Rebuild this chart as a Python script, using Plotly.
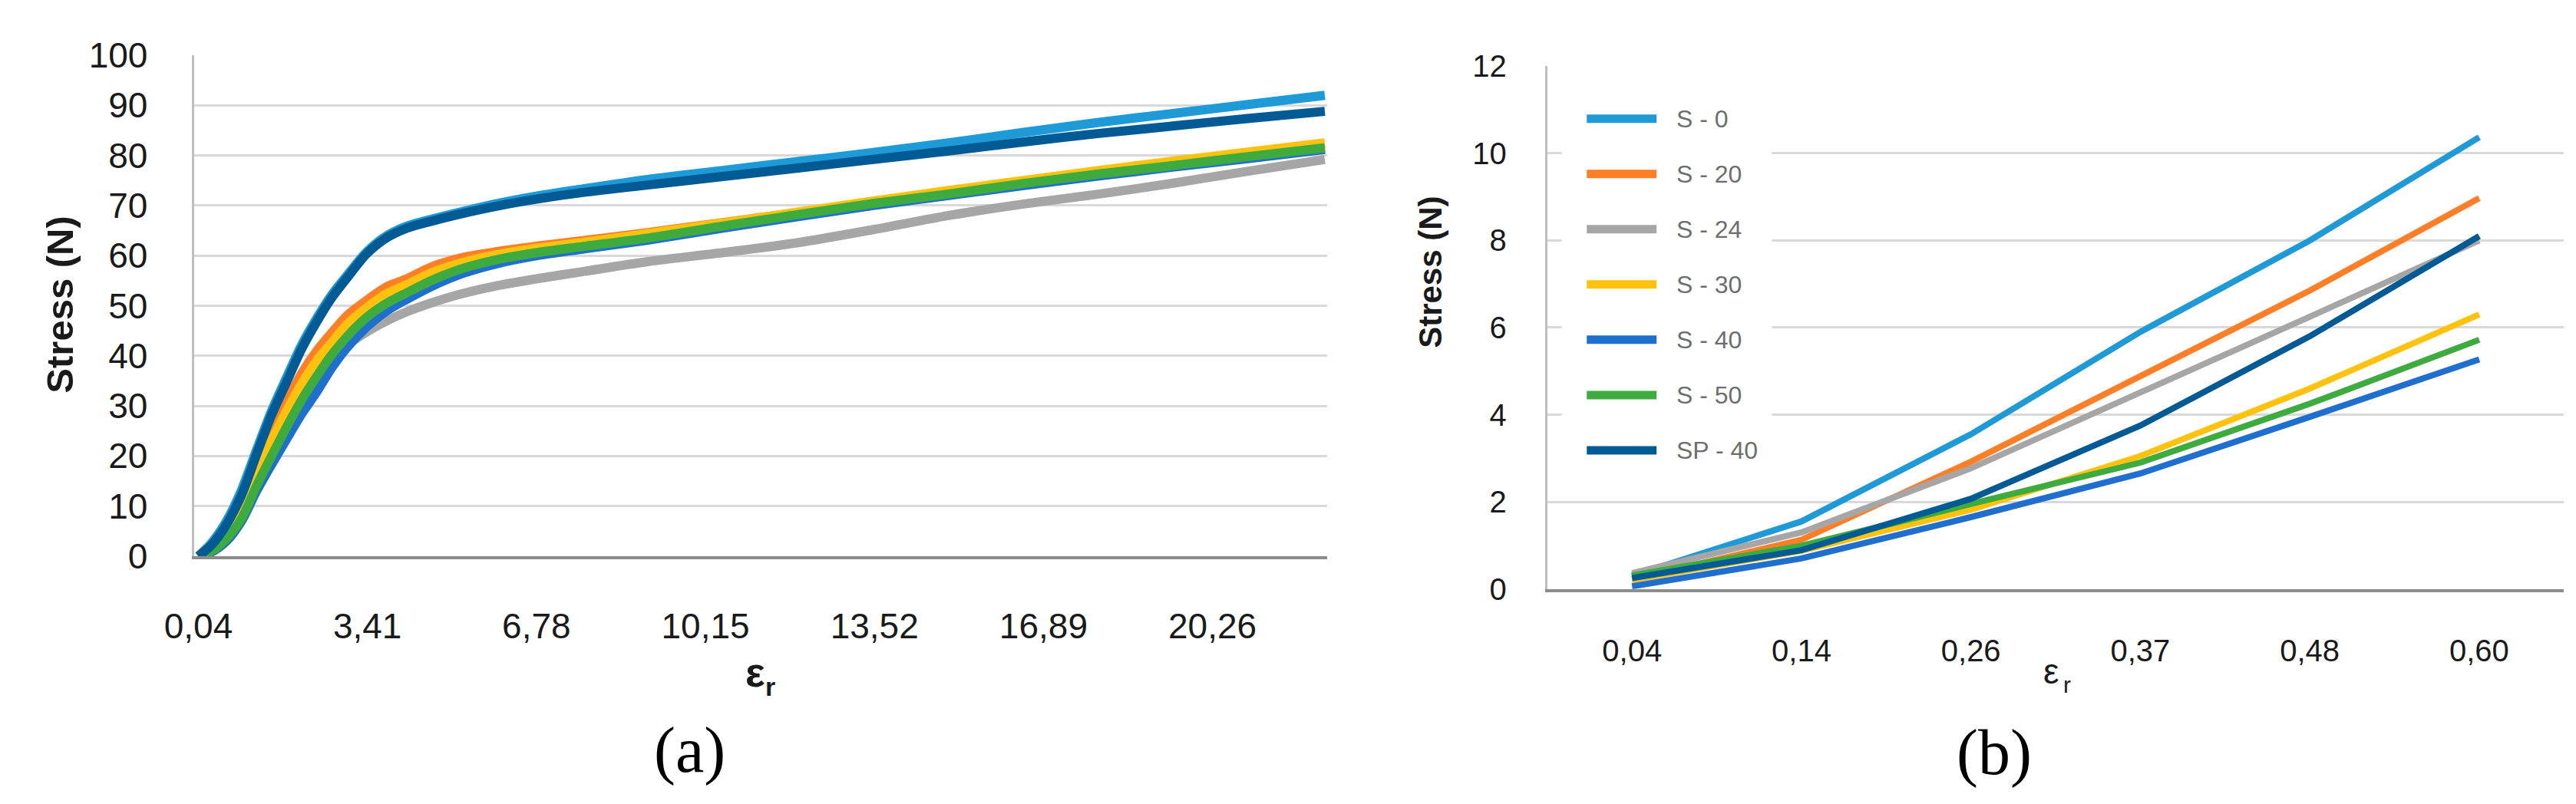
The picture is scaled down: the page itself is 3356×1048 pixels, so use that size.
import plotly.graph_objects as go

W, H = 3356, 1048

# ---------------- Panel (a): stress-strain curves ----------------
strain_a = [0.04, 0.3, 0.6, 0.9, 1.2, 1.5, 1.8, 2.1, 2.4, 2.7, 3.0, 3.4, 3.8, 4.2, 4.7,
            5.3, 6.0, 6.8, 7.7, 9.0, 10.5, 12.0, 13.5, 15.0, 16.5, 18.0, 19.5, 21.0, 22.5]
s0_a = [0, 2.6, 7.0, 13.2, 21.2, 29.0, 35.7, 42.2, 47.5, 52.2, 56.0, 60.8, 64.0, 65.9, 67.3,
        68.8, 70.4, 71.9, 73.3, 75.2, 77.0, 78.8, 80.6, 82.5, 84.6, 86.6, 88.4, 90.2, 92.0]
s20_a = [0, 2.2, 5.8, 10.5, 18.0, 24.8, 30.8, 36.5, 41.0, 44.6, 48.0, 51.1, 53.8, 55.4, 57.8,
         59.6, 60.8, 61.9, 63.0, 64.6, 66.6, 68.6, 70.6, 72.6, 74.6, 76.6, 78.6, 80.4, 82.2]
s24_a = [0, 1.0, 3.6, 7.8, 14.0, 19.5, 24.8, 30.0, 34.5, 38.6, 42.0, 44.8, 47.0, 48.8, 50.6,
         52.4, 54.0, 55.4, 56.8, 58.8, 60.6, 62.6, 65.2, 68.0, 70.3, 72.3, 74.5, 76.9, 79.2]
s30_a = [0, 1.8, 5.0, 9.6, 16.4, 23.0, 29.0, 34.4, 39.0, 42.6, 46.2, 49.6, 52.4, 54.2, 56.6,
         58.6, 60.2, 61.5, 62.6, 64.4, 66.5, 68.7, 70.9, 73.0, 75.0, 77.0, 78.9, 80.7, 82.5]
s40_a = [0, 0.8, 3.0, 7.0, 13.0, 18.3, 23.4, 28.4, 32.8, 37.6, 41.6, 45.8, 49.0, 51.3, 53.9,
         56.4, 58.4, 60.0, 61.3, 63.1, 65.5, 67.8, 70.0, 72.0, 74.0, 75.9, 77.7, 79.4, 81.2]
s50_a = [0, 1.0, 3.5, 7.5, 14.0, 20.0, 25.8, 31.2, 35.9, 40.2, 43.8, 47.7, 50.5, 52.6, 55.1,
         57.4, 59.2, 60.6, 61.8, 63.5, 65.9, 68.2, 70.4, 72.3, 74.4, 76.3, 78.0, 79.8, 81.5]
sp40_a = [0, 2.2, 6.3, 12.2, 20.3, 28.2, 34.8, 41.4, 46.8, 51.6, 55.5, 60.4, 63.6, 65.5, 66.9,
          68.4, 69.9, 71.3, 72.6, 74.1, 75.8, 77.5, 79.2, 80.9, 82.7, 84.4, 85.9, 87.4, 88.8]
tickvals_a = [0.04, 3.41, 6.78, 10.15, 13.52, 16.89, 20.26]
ticktext_a = ["0,04", "3,41", "6,78", "10,15", "13,52", "16,89", "20,26"]

# ---------------- Panel (b): low-strain region ----------------
cats_b = ["0,04", "0,14", "0,26", "0,37", "0,48", "0,60"]
s0_b = [0.30, 1.55, 3.55, 5.90, 8.00, 10.37]
s20_b = [0.22, 1.13, 2.92, 4.90, 6.85, 8.97]
s24_b = [0.36, 1.30, 2.77, 4.50, 6.25, 8.00]
s30_b = [0.20, 0.88, 1.82, 3.05, 4.60, 6.30]
s40_b = [0.06, 0.70, 1.65, 2.65, 3.95, 5.27]
s50_b = [0.31, 0.99, 1.95, 2.90, 4.25, 5.72]
sp40_b = [0.25, 0.89, 2.07, 3.75, 5.80, 8.10]

names = ["S-0", "S-20", "S-24", "S-30", "S-40", "S-50", "SP-40"]
legend_text = ["S - 0", "S - 20", "S - 24", "S - 30", "S - 40", "S - 50", "SP - 40"]
colors = ["#1E9AD6", "#FF7F27", "#A6A6A6", "#FFC20E", "#1F6FCF", "#3DAB3D", "#005B94"]

series_a = [s0_a, s20_a, s24_a, s30_a, s40_a, s50_a, sp40_a]
series_b = [s0_b, s20_b, s24_b, s30_b, s40_b, s50_b, sp40_b]


def fx(p):
    return p / W


def fy(p):
    return 1 - p / H


fig = go.Figure()
for name, col, ys in zip(names, colors, series_a):
    fig.add_trace(go.Scatter(x=strain_a, y=ys, name=name, mode="lines",
                             line=dict(color=col, width=12, shape="spline", smoothing=0.8),
                             xaxis="x", yaxis="y", showlegend=False))
for name, col, ys in zip(names, colors, series_b):
    fig.add_trace(go.Scatter(x=cats_b, y=ys, name=name, mode="lines",
                             line=dict(color=col, width=8),
                             xaxis="x2", yaxis="y2", showlegend=False))

tick_font_a = dict(family="Liberation Sans", size=46, color="#1a1a1a")
tick_font_b = dict(family="Liberation Sans", size=40, color="#1a1a1a")
grid = "#D9D9D9"

fig.update_layout(
    width=W, height=H, autosize=False,
    margin=dict(l=0, r=0, t=0, b=0),
    paper_bgcolor="white", plot_bgcolor="white",
    showlegend=False,
    xaxis=dict(domain=[fx(208), fx(1702)], range=[-0.05, 22.55],
               tickmode="array", tickvals=tickvals_a, ticktext=ticktext_a,
               showgrid=False, zeroline=False, showline=True,
               linecolor="#8C8C8C", linewidth=4, ticks="",
               tickfont=tick_font_a, ticklabelstandoff=48, anchor="y"),
    yaxis=dict(domain=[fy(727), fy(40)], range=[0, 100], dtick=10,
               showgrid=True, gridcolor=grid, gridwidth=3, zeroline=False,
               showline=True, linecolor="#BFBFBF", linewidth=3, ticks="",
               tickfont=tick_font_a, ticklabelstandoff=48, anchor="x"),
    xaxis2=dict(domain=[fx(1992), fx(3332)], type="category", range=[-0.5, 5.5],
                showgrid=False, zeroline=False, showline=True,
                linecolor="#8C8C8C", linewidth=4, ticks="",
                tickfont=tick_font_b, ticklabelstandoff=42, anchor="y2"),
    yaxis2=dict(domain=[fy(772), fy(55)], range=[0, 12], dtick=2,
                showgrid=True, gridcolor=grid, gridwidth=3, zeroline=False,
                showline=True, linecolor="#BFBFBF", linewidth=3, ticks="",
                tickfont=tick_font_b, ticklabelstandoff=42, anchor="x2"),
)


def note(text, px, py, size, family="Liberation Sans", color="#1a1a1a", angle=0, xanchor="center"):
    return dict(text=text, x=fx(px), y=fy(py), xref="paper", yref="paper",
                textangle=angle, showarrow=False, xanchor=xanchor, yanchor="middle",
                font=dict(family=family, size=size, color=color))


ann = []
# panel (a) titles
ann.append(note("<b>Stress (N)</b>", 31, 382, 49, angle=-90))
ann.append(note("<b>ε</b>", 948, 886, 54))
ann.append(note("<b>r</b>", 968, 906, 34))
ann.append(note("(a)", 862, 993, 84, family="Liberation Serif", color="#000000"))
# panel (b) titles
ann.append(note("<b>Stress (N)</b>", 1838, 338, 42, angle=-90))
ann.append(note("ε", 2656, 885, 46))
ann.append(note("r", 2677, 903, 30))
ann.append(note("(b)", 2581, 996, 84, family="Liberation Serif", color="#000000"))

shapes = []
# legend background (hides gridlines)
shapes.append(dict(type="rect", xref="paper", yref="paper",
                   x0=fx(2011), x1=fx(2288), y0=fy(622), y1=fy(88),
                   fillcolor="white", line=dict(width=0), layer="above"))
leg_y0, leg_step = 127, 75.8
for i, (lt, col) in enumerate(zip(legend_text, colors)):
    yy = leg_y0 + i * leg_step
    shapes.append(dict(type="line", xref="paper", yref="paper",
                       x0=fx(2044), x1=fx(2136), y0=fy(yy), y1=fy(yy),
                       line=dict(color=col, width=11), layer="above"))
    ann.append(note(lt, 2160, yy, 32, color="#6E6E6E", xanchor="left"))

fig.update_layout(annotations=ann, shapes=shapes)
fig.write_html("out.html")
